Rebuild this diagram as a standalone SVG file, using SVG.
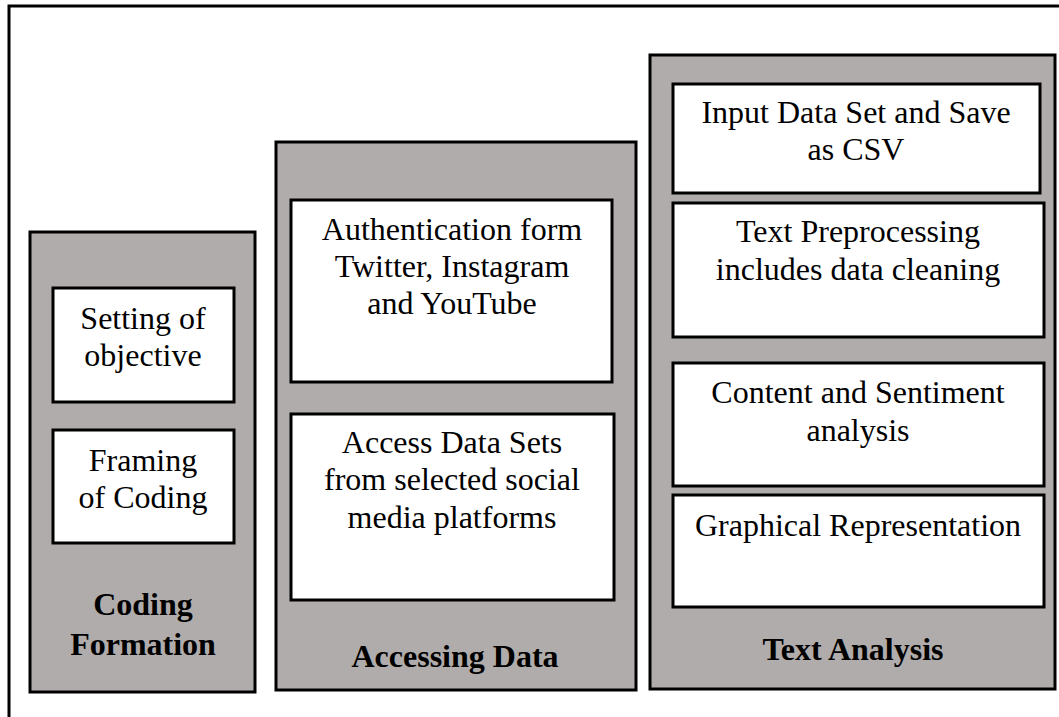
<svg xmlns="http://www.w3.org/2000/svg" width="1059" height="717" viewBox="0 0 1059 717">
<style>
.col{fill:#b0acab;stroke:#000;stroke-width:3}
.box{fill:#fff;stroke:#000;stroke-width:3}
text{font-family:"Liberation Serif","Times New Roman",serif;font-size:32px;fill:#000;text-anchor:middle}
.b{font-weight:bold}
</style>
<rect x="9" y="6" width="1070" height="730" fill="#fff" stroke="#000" stroke-width="3"/>
<g id="coding-formation">
<rect class="col" x="30" y="232" width="225" height="460"/>
<text class="b" x="143" y="615">Coding</text>
<text class="b" x="143" y="655">Formation</text>
</g>
<g id="setting-objective">
<rect class="box" x="53" y="288" width="181" height="114"/>
<text x="143" y="329">Setting of</text>
<text x="143" y="366">objective</text>
</g>
<g id="framing-coding">
<rect class="box" x="53" y="430" width="181" height="113"/>
<text x="143" y="471">Framing</text>
<text x="143" y="508">of Coding</text>
</g>
<g id="accessing-data">
<rect class="col" x="276" y="142" width="360" height="548"/>
<text class="b" x="455" y="667">Accessing Data</text>
</g>
<g id="authentication">
<rect class="box" x="291" y="200" width="321" height="182"/>
<text x="452" y="240">Authentication form</text>
<text x="452" y="277">Twitter, Instagram</text>
<text x="452" y="314">and YouTube</text>
</g>
<g id="access-datasets">
<rect class="box" x="291" y="414" width="323" height="186"/>
<text x="452" y="453">Access Data Sets</text>
<text x="452" y="490">from selected social</text>
<text x="452" y="528">media platforms</text>
</g>
<g id="text-analysis">
<rect class="col" x="650" y="55" width="405" height="634"/>
<text class="b" x="853" y="660">Text Analysis</text>
</g>
<g id="input-dataset">
<rect class="box" x="673" y="84" width="367" height="109"/>
<text x="856" y="123">Input Data Set and Save</text>
<text x="856" y="160">as CSV</text>
</g>
<g id="text-preprocessing">
<rect class="box" x="673" y="203" width="371" height="134"/>
<text x="858" y="242">Text Preprocessing</text>
<text x="858" y="280">includes data cleaning</text>
</g>
<g id="content-sentiment">
<rect class="box" x="673" y="363" width="371" height="123"/>
<text x="858" y="403">Content and Sentiment</text>
<text x="858" y="441">analysis</text>
</g>
<g id="graphical-representation">
<rect class="box" x="673" y="495" width="371" height="112"/>
<text x="858" y="536">Graphical Representation</text>
</g>
<g id="connectors"></g>
</svg>
